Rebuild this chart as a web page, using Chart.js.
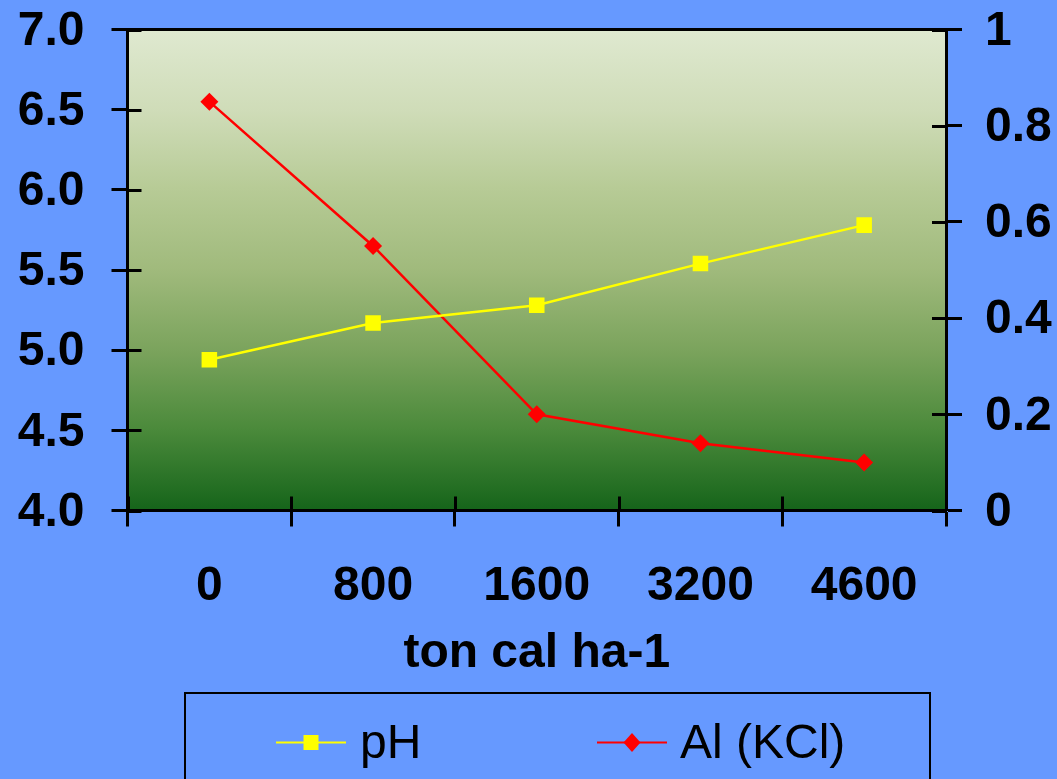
<!DOCTYPE html>
<html>
<head>
<meta charset="utf-8">
<script src="https://cdn.jsdelivr.net/npm/chart.js@4/dist/chart.umd.min.js"></script>
<style>
  html, body { margin: 0; padding: 0; background: #6699FF; }
  canvas { display: block; }
</style>
</head>
<body>
<canvas id="chart" width="1057" height="779"></canvas>
<script>
// Lime rates (x categories) and soil responses
const categories = ['0', '800', '1600', '3200', '4600'];
const phValues = [4.94, 5.17, 5.28, 5.54, 5.78];
const alValues = [0.85, 0.55, 0.20, 0.14, 0.10];
const xTitle = 'ton cal ha-1';
const seriesLabels = ['pH', 'Al (KCl)'];

const FONT = '"Liberation Sans", Arial, sans-serif';
const BG = '#6699FF';

// Vertical gradient behind the plot area, plus the page background
const plotBackground = {
  id: 'plotBackground',
  beforeDraw(chart) {
    const { ctx, chartArea: a } = chart;
    ctx.save();
    ctx.fillStyle = BG;
    ctx.fillRect(0, 0, chart.width, chart.height);
    const g = ctx.createLinearGradient(0, a.top, 0, a.bottom);
    g.addColorStop(0.00, '#dfe9d0');
    g.addColorStop(0.17, '#cfdcb8');
    g.addColorStop(0.33, '#b7cb96');
    g.addColorStop(0.50, '#a0ba7c');
    g.addColorStop(0.67, '#7aa35c');
    g.addColorStop(0.83, '#4b8a3b');
    g.addColorStop(1.00, '#15641a');
    ctx.fillStyle = g;
    ctx.fillRect(a.left, a.top, a.right - a.left, a.bottom - a.top);
    ctx.restore();
  }
};

// Top frame line and the inward half of each tick mark (ticks cross the axes)
const crossTicks = {
  id: 'crossTicks',
  beforeDatasetsDraw(chart) {
    const { ctx, chartArea: a, scales } = chart;
    const inner = 14;
    ctx.save();
    ctx.strokeStyle = '#000';
    ctx.lineWidth = 3;
    ctx.beginPath();
    ctx.moveTo(a.left, a.top);
    ctx.lineTo(a.right, a.top);
    const y = scales.y, y1 = scales.y1, x = scales.x;
    y.ticks.forEach(t => {
      const p = Math.round(y.getPixelForValue(t.value)) + 0.5;
      ctx.moveTo(a.left, p); ctx.lineTo(a.left + inner, p);
    });
    y1.ticks.forEach(t => {
      const p = Math.round(y1.getPixelForValue(t.value)) + 0.5;
      ctx.moveTo(a.right, p); ctx.lineTo(a.right - inner, p);
    });
    for (let i = 0; i <= categories.length; i++) {
      const p = Math.round(x.getPixelForValue(i - 0.5)) + 0.5;
      ctx.moveTo(p, a.bottom); ctx.lineTo(p, a.bottom - inner);
    }
    ctx.stroke();
    ctx.restore();
  }
};

// Boxed legend below the axis title: line sample with marker, then label
const boxedLegend = {
  id: 'boxedLegend',
  afterDraw(chart) {
    const { ctx } = chart;
    ctx.save();
    ctx.strokeStyle = '#000';
    ctx.lineWidth = 2;
    ctx.strokeRect(185, 693, 745, 120);
    const items = [
      { x0: 276, x1: 346, tx: 360 },
      { x0: 597, x1: 667, tx: 680 }
    ];
    const ly = 742.5;
    chart.data.datasets.forEach((ds, i) => {
      const it = items[i];
      const cx = (it.x0 + it.x1) / 2;
      ctx.strokeStyle = ds.borderColor;
      ctx.lineWidth = 2;
      ctx.beginPath();
      ctx.moveTo(it.x0, ly); ctx.lineTo(it.x1, ly);
      ctx.stroke();
      ctx.fillStyle = ds.pointBackgroundColor;
      ctx.beginPath();
      if (ds.pointStyle === 'rect') {
        ctx.rect(cx - 7.5, ly - 7.5, 15, 15);
      } else {
        ctx.moveTo(cx, ly - 9.5); ctx.lineTo(cx + 8.5, ly);
        ctx.lineTo(cx, ly + 9.5); ctx.lineTo(cx - 8.5, ly);
        ctx.closePath();
      }
      ctx.fill();
      ctx.fillStyle = '#000';
      ctx.font = '48px ' + FONT;
      ctx.textBaseline = 'alphabetic';
      ctx.textAlign = 'left';
      ctx.fillText(ds.label, it.tx, 758);
    });
    ctx.restore();
  }
};

const axisFont = { family: FONT, size: 48, weight: 'bold' };
// single-line labels on the value axes: a tiny line height keeps the
// label overhang from pushing the plot area down
const valueFont = { family: FONT, size: 48, weight: 'bold', lineHeight: 0.05 };
const tickGrid = {
  drawOnChartArea: false,
  drawTicks: true,
  tickLength: 16,
  tickWidth: 3,
  tickColor: '#000',
  color: '#000'
};

new Chart(document.getElementById('chart'), {
  type: 'line',
  data: {
    labels: categories,
    datasets: [
      {
        label: seriesLabels[0],
        data: phValues,
        yAxisID: 'y',
        borderColor: '#FFFF00',
        backgroundColor: '#FFFF00',
        pointBackgroundColor: '#FFFF00',
        pointBorderColor: '#FFFF00',
        pointStyle: 'rect',
        pointRadius: 11,
        pointBorderWidth: 0,
        borderWidth: 2.5,
        tension: 0
      },
      {
        label: seriesLabels[1],
        data: alValues,
        yAxisID: 'y1',
        borderColor: '#FF0000',
        backgroundColor: '#FF0000',
        pointBackgroundColor: '#FF0000',
        pointBorderColor: '#FF0000',
        pointStyle: 'rectRot',
        pointRadius: 9,
        pointBorderWidth: 0,
        borderWidth: 2.5,
        tension: 0
      }
    ]
  },
  options: {
    responsive: false,
    animation: false,
    devicePixelRatio: 1,
    layout: { padding: { top: 29.5, bottom: 101, left: 0, right: 0 } },
    plugins: {
      legend: { display: false },
      tooltip: { enabled: false }
    },
    scales: {
      x: {
        type: 'category',
        offset: true,
        grid: Object.assign({}, tickGrid, { offset: true }),
        border: { display: true, color: '#000', width: 3 },
        ticks: { color: '#000', font: axisFont, padding: 31, maxRotation: 0 },
        title: {
          display: true, text: xTitle, color: '#000',
          font: Object.assign({}, axisFont, { lineHeight: 1 }),
          padding: { top: 0, bottom: 0 }
        },
        afterFit(s) { s.height = 167.5; }
      },
      y: {
        position: 'left',
        min: 4, max: 7,
        grid: tickGrid,
        border: { display: true, color: '#000', width: 3 },
        ticks: {
          stepSize: 0.5, color: '#000', font: valueFont, padding: 27, labelOffset: 2,
          callback: v => Number(v).toFixed(1)
        },
        afterFit(s) { s.width = 127.5; }
      },
      y1: {
        position: 'right',
        min: 0, max: 1,
        grid: tickGrid,
        border: { display: true, color: '#000', width: 3 },
        ticks: {
          stepSize: 0.2, color: '#000', font: valueFont, padding: 23, labelOffset: 2,
          callback: v => String(Math.round(v * 10) / 10)
        },
        afterFit(s) { s.width = 111; }
      }
    }
  },
  plugins: [plotBackground, crossTicks, boxedLegend]
});
</script>
</body>
</html>
